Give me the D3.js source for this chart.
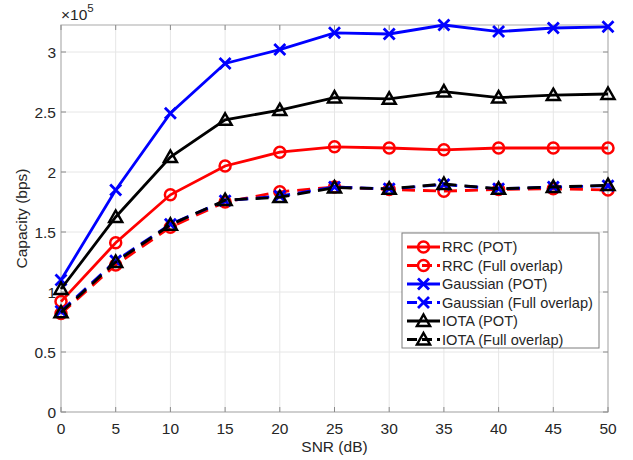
<!DOCTYPE html>
<html lang="en">
<head>
<meta charset="UTF-8">
<title>Capacity vs SNR</title>
<script src="https://d3js.org/d3.v7.min.js"></script>
<style>
    body { margin: 0; background: #fff; font-family: "Liberation Sans", Arial, sans-serif; }
    text { fill: #262626; }
    .tick-label { font-size: 15.5px; }
    .axis-label { font-size: 15.5px; }
    .legend-text { font-size: 14.6px; }
</style>
</head>
<body>
<svg width="633" height="460"></svg>
<script>
    const snr = [0, 5, 10, 15, 20, 25, 30, 35, 40, 45, 50];

    // capacity values in units of 1e5 bps
    const rrcPot      = [0.92, 1.41, 1.81, 2.05, 2.165, 2.21, 2.20, 2.185, 2.20, 2.20, 2.20];
    const rrcFull     = [0.82, 1.225, 1.54, 1.75, 1.835, 1.875, 1.855, 1.84, 1.855, 1.86, 1.85];
    const gaussPot    = [1.10, 1.85, 2.49, 2.905, 3.02, 3.16, 3.15, 3.225, 3.17, 3.20, 3.21];
    const gaussFull   = [0.84, 1.26, 1.565, 1.76, 1.80, 1.875, 1.86, 1.895, 1.86, 1.875, 1.885];
    const iotaPot     = [1.025, 1.625, 2.125, 2.435, 2.515, 2.62, 2.61, 2.67, 2.62, 2.64, 2.65];
    const iotaFull    = [0.83, 1.25, 1.56, 1.765, 1.79, 1.87, 1.86, 1.90, 1.86, 1.875, 1.89];

    const xTicks = [0, 5, 10, 15, 20, 25, 30, 35, 40, 45, 50];
    const yTicks = [0, 0.5, 1, 1.5, 2, 2.5, 3];

    const series = [
        { name: "RRC (POT)", values: rrcPot, color: "#ff0000", dashed: false, marker: "circle" },
        { name: "RRC (Full overlap)", values: rrcFull, color: "#ff0000", dashed: true, marker: "circle" },
        { name: "Gaussian (POT)", values: gaussPot, color: "#0000ff", dashed: false, marker: "x" },
        { name: "Gaussian (Full overlap)", values: gaussFull, color: "#0000ff", dashed: true, marker: "x" },
        { name: "IOTA (POT)", values: iotaPot, color: "#000000", dashed: false, marker: "triangle" },
        { name: "IOTA (Full overlap)", values: iotaFull, color: "#000000", dashed: true, marker: "triangle" }
    ];

    const margin = { top: 25, right: 25, bottom: 48, left: 61 };
    const width = 633, height = 460;
    const svg = d3.select("svg");

    const x = d3.scaleLinear().domain([0, 50]).range([margin.left, width - margin.right]);
    const y = d3.scaleLinear().domain([0, 3.225]).range([height - margin.bottom, margin.top]);

    const x0 = x.range()[0], x1 = x.range()[1];
    const y0 = y.range()[0], y1 = y.range()[1];

    // grid
    const grid = svg.append("g");
    grid.selectAll(".gx").data(xTicks).enter().append("line")
        .attr("x1", d => x(d)).attr("x2", d => x(d))
        .attr("y1", y0).attr("y2", y1)
        .attr("stroke", "#e6e6e6").attr("stroke-width", 1);
    grid.selectAll(".gy").data(yTicks).enter().append("line")
        .attr("x1", x0).attr("x2", x1)
        .attr("y1", d => y(d)).attr("y2", d => y(d))
        .attr("stroke", "#e6e6e6").attr("stroke-width", 1);

    // box
    svg.append("rect")
        .attr("x", x0).attr("y", y1)
        .attr("width", x1 - x0).attr("height", y0 - y1)
        .attr("fill", "none").attr("stroke", "#b8b8b8").attr("stroke-width", 1.2);

    // ticks (inward, both sides)
    const tl = 5;
    svg.append("g").selectAll("line").data(xTicks).enter().append("line")
        .attr("x1", d => x(d)).attr("x2", d => x(d))
        .attr("y1", y0).attr("y2", y0 - tl)
        .attr("stroke", "#8a8a8a");
    svg.append("g").selectAll("line").data(xTicks).enter().append("line")
        .attr("x1", d => x(d)).attr("x2", d => x(d))
        .attr("y1", y1).attr("y2", y1 + tl)
        .attr("stroke", "#8a8a8a");
    svg.append("g").selectAll("line").data(yTicks).enter().append("line")
        .attr("x1", x0).attr("x2", x0 + tl)
        .attr("y1", d => y(d)).attr("y2", d => y(d))
        .attr("stroke", "#8a8a8a");
    svg.append("g").selectAll("line").data(yTicks).enter().append("line")
        .attr("x1", x1).attr("x2", x1 - tl)
        .attr("y1", d => y(d)).attr("y2", d => y(d))
        .attr("stroke", "#8a8a8a");

    // tick labels
    svg.append("g").selectAll("text").data(xTicks).enter().append("text")
        .attr("class", "tick-label")
        .attr("x", d => x(d)).attr("y", y0 + 22)
        .attr("text-anchor", "middle")
        .text(d => d);
    svg.append("g").selectAll("text").data(yTicks).enter().append("text")
        .attr("class", "tick-label")
        .attr("x", x0 - 5).attr("y", d => y(d) + 5.5)
        .attr("text-anchor", "end")
        .text(d => d);

    // exponent
    const ex = svg.append("text").attr("class", "tick-label").attr("x", x0).attr("y", 20);
    ex.append("tspan").text("\u00d710");
    ex.append("tspan").attr("dy", -8).attr("font-size", "11.5px").text("5");

    // axis labels
    svg.append("text").attr("class", "axis-label")
        .attr("x", (x0 + x1) / 2).attr("y", 452)
        .attr("text-anchor", "middle").text("SNR (dB)");
    svg.append("text").attr("class", "axis-label")
        .attr("transform", `translate(27,${(y0 + y1) / 2}) rotate(-90)`)
        .attr("text-anchor", "middle").text("Capacity (bps)");

    function drawMarker(g, type, cx, cy, color) {
        if (type === "circle") {
            g.append("circle").attr("cx", cx).attr("cy", cy).attr("r", 5.5)
                .attr("fill", "none").attr("stroke", color).attr("stroke-width", 2.5);
        } else if (type === "x") {
            const s = 5.5;
            g.append("path")
                .attr("d", `M${cx - s},${cy - s}L${cx + s},${cy + s}M${cx - s},${cy + s}L${cx + s},${cy - s}`)
                .attr("stroke", color).attr("stroke-width", 2.8).attr("fill", "none");
        } else {
            const s = 6.5;
            g.append("path")
                .attr("d", `M${cx},${cy - s}L${cx + s},${cy + s * 0.75}L${cx - s},${cy + s * 0.75}Z`)
                .attr("stroke", color).attr("stroke-width", 2.5).attr("fill", "none")
                .attr("stroke-linejoin", "miter");
        }
    }

    const line = d3.line().x((d, i) => x(snr[i])).y(d => y(d));

    series.forEach(s => {
        const g = svg.append("g");
        g.append("path")
            .datum(s.values)
            .attr("d", line)
            .attr("fill", "none")
            .attr("stroke", s.color)
            .attr("stroke-width", 2.8)
            .attr("stroke-dasharray", s.dashed ? "13,8" : null);
        s.values.forEach((v, i) => drawMarker(g, s.marker, x(snr[i]), y(v), s.color));
    });

    // legend
    const lg = svg.append("g");
    const lx = 402, ly = 233, lw = 197, lh = 115, rowH = 18.5;
    lg.append("rect").attr("x", lx).attr("y", ly).attr("width", lw).attr("height", lh)
        .attr("fill", "#fff").attr("stroke", "#262626").attr("stroke-opacity", 0.6).attr("stroke-width", 1);
    series.forEach((s, i) => {
        const cy = ly + 14 + i * rowH;
        lg.append("line")
            .attr("x1", lx + 5).attr("x2", lx + 38)
            .attr("y1", cy).attr("y2", cy)
            .attr("stroke", s.color).attr("stroke-width", 2.8)
            .attr("stroke-dasharray", s.dashed ? "10,5" : null);
        drawMarker(lg, s.marker, lx + 21.5, cy, s.color);
        lg.append("text").attr("class", "legend-text")
            .attr("x", lx + 40).attr("y", cy + 5)
            .text(s.name);
    });
</script>
</body>
</html>
